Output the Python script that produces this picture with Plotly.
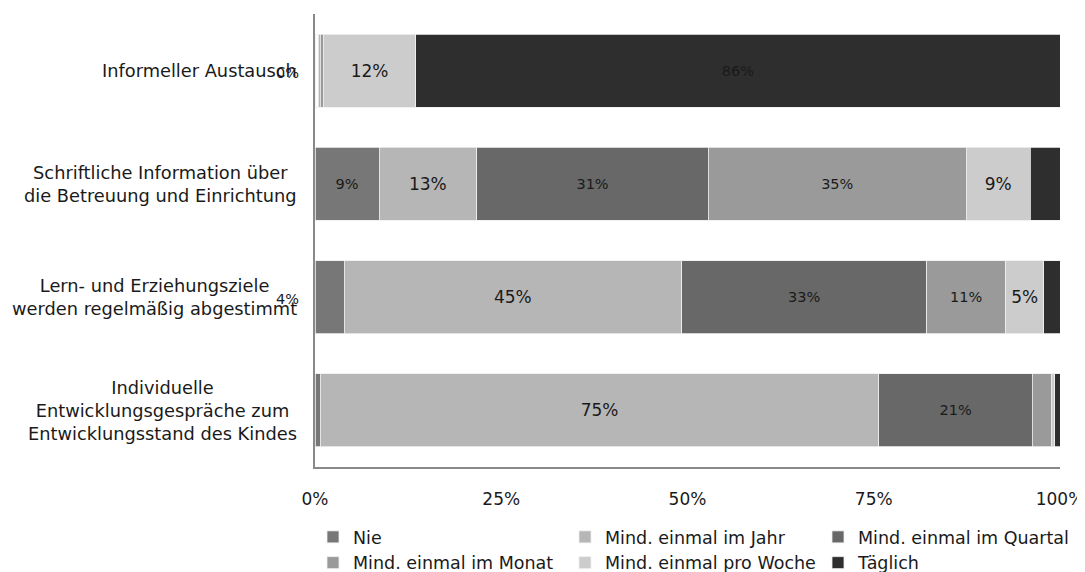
import plotly.graph_objects as go

# ---------------- data ----------------
categories = [
    "Informeller Austausch",
    "Schriftliche Information über<br>die Betreuung und Einrichtung",
    "Lern- und Erziehungsziele<br>werden regelmäßig abgestimmt",
    "Individuelle<br>Entwicklungsgespräche zum<br>Entwicklungsstand des Kindes",
]
series_names = [
    "Nie",
    "Mind. einmal im Jahr",
    "Mind. einmal im Quartal",
    "Mind. einmal im Monat",
    "Mind. einmal pro Woche",
    "Täglich",
]
nie = [0.45, 8.6, 3.9, 0.7]
jahr = [0.25, 13.1, 45.3, 75.0]
quartal = [0.0, 31.1, 32.9, 20.6]
monat = [0.4, 34.6, 10.6, 2.5]
woche = [12.45, 8.6, 5.1, 0.5]
taeglich = [86.45, 4.0, 2.2, 0.7]
nie_label_outside = [True, False, True, False]

x_tick_values = [0, 25, 50, 75, 100]
x_tick_labels = ["0%", "25%", "50%", "75%", "100%"]

# ---------------- style ----------------
FONT = "DejaVu Sans"
TXT = "#1a1a1a"
series_colors = ["#777777", "#b6b6b6", "#686868", "#9a9a9a", "#cccccc", "#2e2e2e"]
series_label_size = [14.5, 17, 14.5, 14.5, 17, 14.5]
series_legend = ["legend", "legend2", "legend3", "legend", "legend2", "legend3"]
label_min = 5

all_values = [nie, jahr, quartal, monat, woche, taeglich]

fig = go.Figure()
for i, (name, vals) in enumerate(zip(series_names, all_values)):
    if i == 0:
        # first segment of the first row is drawn without fill in the original
        color = ["#ffffff"] + [series_colors[0]] * (len(vals) - 1)
    else:
        color = [series_colors[i]] * len(vals)
    # points are passed bottom row first (display order is fixed by categoryarray),
    # so that the legend swatch takes a regular fill colour
    fig.add_trace(go.Bar(
        orientation="h",
        y=categories[::-1],
        x=vals[::-1],
        name=name,
        legend=series_legend[i],
        marker=dict(color=color[::-1], line=dict(color="#efefef", width=0.8)),
        text=[f"{v:.0f}%" if v >= label_min else "" for v in vals[::-1]],
        textposition="inside",
        insidetextanchor="middle",
        textangle=0,
        constraintext="none",
        textfont=dict(family=FONT, size=series_label_size[i], color=TXT),
        hoverinfo="x+y+name",
    ))

annotations = []
# category labels (centered multi-line text left of axis)
for c in categories:
    annotations.append(dict(
        x=0, xref="paper", y=c, yref="y", xanchor="right", yanchor="middle",
        xshift=-16, text=c, showarrow=False, align="center",
        font=dict(family=FONT, size=17.8, color=TXT),
    ))
# small "Nie" values labelled outside the bar
for c, v, show in zip(categories, nie, nie_label_outside):
    if show:
        annotations.append(dict(
            x=0, xref="x", y=c, yref="y", xanchor="right", yanchor="middle",
            xshift=-14, yshift=-2, text=f"{v:.0f}%", showarrow=False,
            font=dict(family=FONT, size=14.5, color=TXT),
        ))

# the page body adds an 8px offset, so the figure is 8px smaller each way
W, H = 1077, 564
L, R, T, B = 307, 25, 6, 105
pw, ph = W - L - R, H - T - B


def px_to_paper_x(px):
    return (px - L) / pw


def px_to_paper_y(py):
    return (H - B - py) / ph


legend_common = dict(
    orientation="v", yanchor="top", xanchor="left", traceorder="normal",
    font=dict(family=FONT, size=17.5, color=TXT),
    bgcolor="rgba(0,0,0,0)", tracegroupgap=0,
)
legend_top = 511

fig.update_layout(
    width=W, height=H,
    margin=dict(l=L, r=R, t=T, b=B, autoexpand=False),
    barmode="stack",
    bargap=0.355,
    plot_bgcolor="white",
    paper_bgcolor="white",
    font=dict(family=FONT, size=17, color=TXT),
    xaxis=dict(
        range=[0, 100], tickvals=x_tick_values, ticktext=x_tick_labels,
        showgrid=False, zeroline=False, showline=True, linecolor="#898989",
        linewidth=2, ticks="", tickfont=dict(family=FONT, size=17, color=TXT),
        ticklabelstandoff=16, ticklabeloverflow="allow", fixedrange=True,
    ),
    yaxis=dict(
        categoryorder="array", categoryarray=categories, autorange="reversed",
        showticklabels=False, showgrid=False, zeroline=False, showline=True,
        linecolor="#898989", linewidth=2, ticks="", fixedrange=True,
    ),
    legend=dict(x=px_to_paper_x(305), y=px_to_paper_y(legend_top), **legend_common),
    legend2=dict(x=px_to_paper_x(557), y=px_to_paper_y(legend_top), **legend_common),
    legend3=dict(x=px_to_paper_x(810), y=px_to_paper_y(legend_top), **legend_common),
    annotations=annotations,
)

fig.write_html("out.html")
